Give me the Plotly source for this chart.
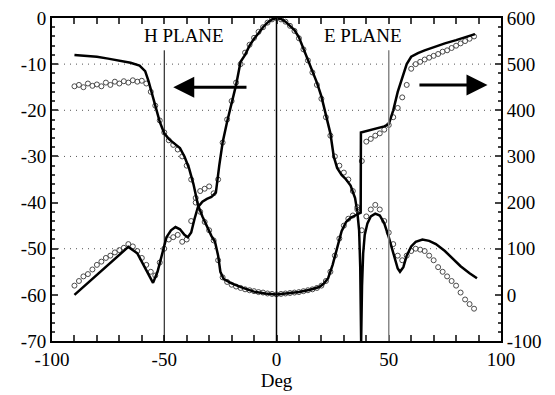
import plotly.graph_objects as go

# ---------------- data ----------------
# simulated amplitude (dB, left axis)
sim_amp_x = [-90, -85, -80, -75, -70, -66, -62, -58, -55, -53, -51, -49, -47, -45, -43, -41, -39.5, -38,
             -36.5, -35, -33, -31, -29, -27, -25.5, -24, -22, -20, -18, -16, -14, -12, -10, -8, -6, -4, -2, 0,
             2, 4, 6, 8, 10, 12, 14, 16, 18, 20, 22, 24, 25.5, 27, 29, 31, 33, 35, 36, 36.8, 37.3, 37.7,
             38.1, 38.6, 39.3, 40.5, 42, 44, 46, 48, 50, 52, 54, 55, 56.5, 58, 60, 62, 65, 68, 71, 75, 78,
             82, 86, 89.3]
sim_amp_y = [-60, -57.8, -55.6, -53.4, -51.2, -49.6, -51, -54.5, -57.4, -55, -51, -47.5, -46, -45.3, -45.8,
             -47, -47.5, -46.5, -43.5, -41, -39.8, -39.2, -38.8, -37.8, -32, -27, -22.5, -18.5, -14.5, -9.5,
             -8, -6, -4.5, -3.3, -2, -1, -0.3, 0,
             -0.2, -0.8, -1.6, -2.6, -4.2, -6.6, -9, -11.3, -14, -17, -21, -25, -30, -32.5, -34, -35, -36.3,
             -39, -42, -46, -54, -70, -58, -51, -47, -44.5, -43, -42.4, -42.8, -44.5, -47.5, -51, -54.3, -55,
             -54, -51.5, -49.5, -48.5, -48, -48.3, -49, -50.5, -52, -53.8, -55.3, -56.4]

# simulated phase (deg, right axis)
sim_ph_x = [-90, -85, -80, -75, -70, -65, -61, -58.5, -57, -55.5, -54, -52, -50, -48, -46, -43, -41, -39,
            -37, -35, -33, -31, -29, -27.4, -26, -25, -23.5, -20, -15, -10, -5, 0,
            5, 10, 15, 19, 21, 23, 25, 27, 29, 31, 33, 35, 37.5, 37.6, 40, 44, 48, 50, 52, 54, 56, 58, 60,
            63, 66, 70, 75, 80, 85, 88.4]
sim_ph_y = [520, 518, 516, 512, 508, 503, 497, 485, 463, 435, 410, 375, 350, 338, 330, 318, 300, 275,
            240, 195, 170, 148, 128, 115, 85, 50, 34, 25, 15, 7, 3, 1,
            3, 6, 11, 17, 24, 36, 65, 104, 138, 158, 167, 172, 178, 352, 355, 360, 365, 370, 400, 440, 472,
            500, 516, 524, 530, 537, 545, 552, 559, 565]

# measured (circles)
meas_x = [-90, -88, -86, -84, -82, -80, -78, -76, -74, -72, -70, -68, -66, -64, -62, -60, -58, -56, -54,
          -52, -50, -48, -46, -44, -42, -40, -38, -36, -34, -32, -30, -28, -26, -24, -22, -20, -18, -16,
          -14, -12, -10, -8, -6, -4, -2, 0, 2, 4, 6, 8, 10, 12, 14, 16, 18, 20, 22, 24, 26, 28, 30, 32,
          34, 36, 38, 40, 42, 44, 46, 48, 50, 52, 54, 56, 58, 60, 62, 64, 66, 68, 70, 72, 74, 76, 78, 80,
          82, 84, 86, 88]
meas_amp = [-58, -57, -56, -55.5, -54.5, -53.5, -52.8, -52, -51.5, -50.8, -50.3, -49.8, -49, -49.5, -50.5,
            -52, -53.5, -55, -55.8, -53, -50, -48, -47.5, -47, -48.5, -48, -44, -40, -37.5, -37, -36.5,
            -38, -35, -27, -22, -18, -14, -10, -7.5, -5.8, -4.3, -3, -2, -1, -0.3, 0,
            -0.3, -0.8, -1.7, -2.8, -4.4, -6.8, -9.2, -11.8, -14.5, -17.5, -21.5, -25.5, -30, -32, -33.5,
            -35, -37.5, -41, -46, -43, -41.5, -40.5, -41.5, -44, -46.5, -49, -51.5, -52.5, -51.5, -50.5,
            -50, -50.2, -50.5, -51.5, -52.5, -54, -55, -56, -57, -58, -59.5, -61, -62, -63]
meas_ph = [452, 455, 450, 458, 453, 456, 452, 460, 455, 462, 458, 463, 460, 465, 462, 464, 458, 440, 410,
           378, 352, 335, 325, 315, 300, 280, 250, 210, 180, 158, 140, 118, 75, 38, 28, 22, 18, 15, 12, 10,
           8, 6, 5, 3, 2, 1,
           2, 3, 4, 5, 6, 8, 10, 12, 15, 20, 30, 50, 85, 122, 150, 165, 172, 185, 290, 332, 338, 345, 350,
           358, 368, 385, 405, 428, 455, 490, 500, 505, 510, 514, 518, 522, 527, 530, 535, 540, 545, 550,
           555, 560]

grid_db = [-10, -20, -30, -50]
x_ticks = [-100, -50, 0, 50, 100]
x_ticktext = ["-100", "-50", "0", "50", "100"]
yl_ticks = [0, -10, -20, -30, -40, -50, -60, -70]
yl_ticktext = ["0", "-10", "-20", "-30", "-40", "-50", "-60", "-70"]
yr_ticks = [600, 500, 400, 300, 200, 100, 0, -100]
yr_ticktext = ["600", "500", "400", "300", "200", "100", "0", "-100"]

FONT = "Liberation Serif"

fig = go.Figure()

circ = dict(symbol="circle-open", size=5, color="#4a4a4a", line=dict(width=1))
fig.add_trace(go.Scatter(x=meas_x, y=meas_amp, mode="markers", marker=circ, yaxis="y", showlegend=False))
fig.add_trace(go.Scatter(x=meas_x, y=meas_ph, mode="markers", marker=circ, yaxis="y2", showlegend=False))
fig.add_trace(go.Scatter(x=sim_amp_x, y=sim_amp_y, mode="lines", line=dict(color="black", width=2.5),
                         yaxis="y", showlegend=False))
fig.add_trace(go.Scatter(x=sim_ph_x, y=sim_ph_y, mode="lines", line=dict(color="black", width=2.5),
                         yaxis="y2", showlegend=False))

# dotted grid lines
for g in grid_db:
    fig.add_shape(type="line", xref="x", yref="y", x0=-100, x1=100, y0=g, y1=g,
                  line=dict(color="#555555", width=1, dash="1px,5px"), layer="below")

# plane marker lines
fig.add_shape(type="line", xref="x", yref="y", x0=-50, x1=-50, y0=-70, y1=-7,
              line=dict(color="black", width=1))
fig.add_shape(type="line", xref="x", yref="y", x0=0, x1=0, y0=-70, y1=0,
              line=dict(color="black", width=1.5))
fig.add_shape(type="line", xref="x", yref="y", x0=50, x1=50, y0=-70, y1=-7,
              line=dict(color="#888888", width=1.5))

# labels
fig.add_annotation(x=-41, y=-3.7, xref="x", yref="y", text="H PLANE", showarrow=False,
                   font=dict(family=FONT, size=19, color="black"))
fig.add_annotation(x=38.5, y=-3.7, xref="x", yref="y", text="E PLANE", showarrow=False,
                   font=dict(family=FONT, size=19, color="black"))

# arrows
fig.add_annotation(x=-46, y=-15, ax=-12.7, ay=-15, xref="x", yref="y", axref="x", ayref="y",
                   text="", showarrow=True, arrowhead=2, arrowsize=1.4, arrowwidth=3, arrowcolor="black")
fig.add_annotation(x=94, y=-14.5, ax=63, ay=-14.5, xref="x", yref="y", axref="x", ayref="y",
                   text="", showarrow=True, arrowhead=2, arrowsize=1.4, arrowwidth=3, arrowcolor="black")

tickfont = dict(family=FONT, size=19, color="black")
# page body has an 8px default margin, so the figure is sized to fit the 555x395 window
fig.update_layout(
    width=547, height=387,
    margin=dict(l=44, r=54, t=10, b=54),
    paper_bgcolor="white", plot_bgcolor="white",
    font=dict(family=FONT, size=19, color="black"),
    xaxis=dict(range=[-100, 100], tickvals=x_ticks, ticktext=x_ticktext, ticks="inside", ticklen=6,
               tickwidth=1.5, minor=dict(dtick=10, ticks="inside", ticklen=4), showline=True,
               linewidth=2, linecolor="black", mirror="allticks", showgrid=False, zeroline=False,
               automargin=False, ticklabeloverflow="allow", tickfont=tickfont,
               title=dict(text="Deg", font=tickfont, standoff=0)),
    yaxis=dict(range=[-70, 0], tickvals=yl_ticks, ticktext=yl_ticktext, ticks="inside", ticklen=6,
               tickwidth=1.5, minor=dict(dtick=2, ticks="inside", ticklen=3), showline=True,
               linewidth=2, linecolor="black", showgrid=False, zeroline=False, automargin=False,
               ticklabeloverflow="allow", tickfont=tickfont),
    yaxis2=dict(range=[-100, 600], tickvals=yr_ticks, ticktext=yr_ticktext, ticks="inside", ticklen=6,
                tickwidth=1.5, minor=dict(dtick=20, ticks="inside", ticklen=3), showline=True,
                linewidth=2, linecolor="black", showgrid=False, zeroline=False, overlaying="y",
                side="right", automargin=False, ticklabeloverflow="allow", tickfont=tickfont),
)

fig.write_html("out.html")
